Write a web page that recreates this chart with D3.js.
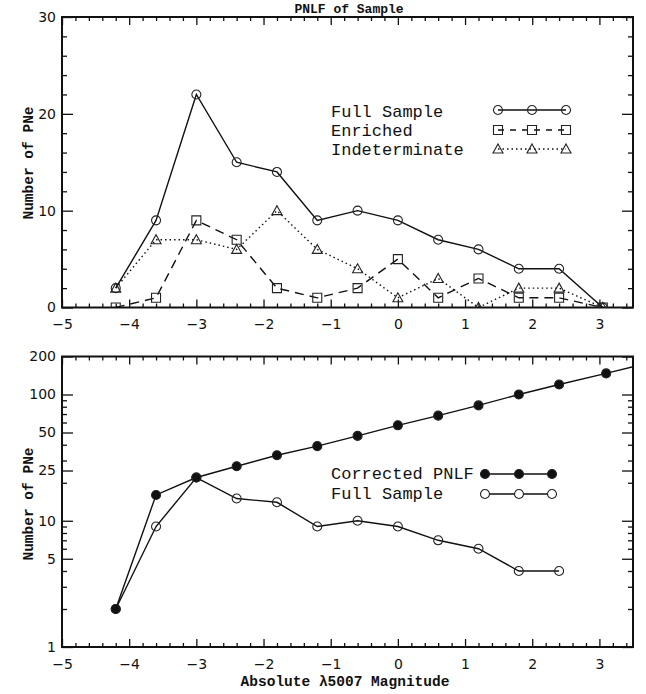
<!DOCTYPE html>
<html>
<head>
<meta charset="utf-8">
<script src="https://cdn.jsdelivr.net/npm/d3@7"></script>
<style>
body { margin: 0; background: #fff; }
.tick text { font-family: "DejaVu Sans", sans-serif; font-size: 14px; fill: #111; }
.tick line { stroke: #111; stroke-width: 1.3; }
.mono { font-family: "Liberation Mono", "DejaVu Sans Mono", monospace; fill: #111; }
</style>
</head>
<body>
<script>
// magnitudes of the bins (x) and counts
const magBins = [-4.2, -3.6, -3.0, -2.4, -1.8, -1.2, -0.6, 0, 0.6, 1.2, 1.8, 2.4, 3.05];
const fullSample = [2, 9, 22, 15, 14, 9, 10, 9, 7, 6, 4, 4, 0];
const enriched = [0, 1, 9, 7, 2, 1, 2, 5, 1, 3, 1, 1, 0];
const indeterminate = [2, 7, 7, 6, 10, 6, 4, 1, 3, 0, 2, 2, 0];

const corrMags = [-4.2, -3.6, -3.0, -2.4, -1.8, -1.2, -0.6, 0, 0.6, 1.2, 1.8, 2.4, 3.1, 3.7];
const corrected = [2, 16, 22, 27, 33, 39, 47, 57, 68, 82, 100, 120, 147, 176];
const fullMagsLog = [-4.2, -3.6, -3.0, -2.4, -1.8, -1.2, -0.6, 0, 0.6, 1.2, 1.8, 2.4];
const fullSampleLog = [2, 9, 22, 15, 14, 9, 10, 9, 7, 6, 4, 4];

const xTicks = [-5, -4, -3, -2, -1, 0, 1, 2, 3];
const yTicksTop = [0, 10, 20, 30];
const yTicksLog = [1, 5, 10, 25, 50, 100, 200];

const W = 646, H = 694;
const left = 62, right = 633;

const svg = d3.select("body").append("svg")
    .attr("width", W)
    .attr("height", H);

const xScale = d3.scaleLinear().domain([-5, 3.5]).range([left, right]);
const yTop = d3.scaleLinear().domain([0, 30]).range([307.5, 17]);
const yLog = d3.scaleLog().domain([1, 200]).range([647, 356.5]);

const xMinor = d3.range(-50, 36, 2).map(d => d / 10).filter(d => !xTicks.includes(d));
const yMinorTop = d3.range(0, 31, 2).filter(d => d % 10 != 0);
var yMinorLog = [];
[1, 10, 100].forEach(function(p) {
    for (var k = 2; k <= 9; k++) {
        var v = k * p;
        if (v <= 200 && !yTicksLog.includes(v)) yMinorLog.push(v);
    }
});

function tidy(g) {
    g.select(".domain").remove();
}

function drawFrame(y, yMajor, yMinor, fmt, clipId) {
    var y0 = y.range()[0], y1 = y.range()[1];
    var plotH = y0 - y1, plotW = right - left;

    svg.append("clipPath").attr("id", clipId)
        .append("rect")
        .attr("x", left).attr("y", y1)
        .attr("width", plotW).attr("height", plotH);

    // bottom axis (ticks inward)
    svg.append("g").attr("transform", "translate(0," + y0 + ")")
        .call(d3.axisBottom(xScale).tickValues(xTicks).tickSize(-8).tickPadding(12)
            .tickFormat(d => d < 0 ? "\u2212" + Math.abs(d) : d))
        .call(tidy);
    svg.append("g").attr("transform", "translate(0," + y0 + ")")
        .call(d3.axisBottom(xScale).tickValues(xMinor).tickSize(-4).tickFormat(""))
        .call(tidy);
    // top axis
    svg.append("g").attr("transform", "translate(0," + y1 + ")")
        .call(d3.axisTop(xScale).tickValues(xTicks).tickSize(-8).tickFormat(""))
        .call(tidy);
    svg.append("g").attr("transform", "translate(0," + y1 + ")")
        .call(d3.axisTop(xScale).tickValues(xMinor).tickSize(-4).tickFormat(""))
        .call(tidy);
    // left axis
    svg.append("g").attr("transform", "translate(" + left + ",0)")
        .call(d3.axisLeft(y).tickValues(yMajor).tickSize(-11).tickPadding(6).tickFormat(fmt))
        .call(tidy);
    svg.append("g").attr("transform", "translate(" + left + ",0)")
        .call(d3.axisLeft(y).tickValues(yMinor).tickSize(-5).tickFormat(""))
        .call(tidy);
    // right axis
    svg.append("g").attr("transform", "translate(" + right + ",0)")
        .call(d3.axisRight(y).tickValues(yMajor).tickSize(-11).tickFormat(""))
        .call(tidy);
    svg.append("g").attr("transform", "translate(" + right + ",0)")
        .call(d3.axisRight(y).tickValues(yMinor).tickSize(-5).tickFormat(""))
        .call(tidy);

    svg.append("rect")
        .attr("x", left).attr("y", y1)
        .attr("width", plotW).attr("height", plotH)
        .attr("fill", "none")
        .attr("stroke", "#111")
        .attr("stroke-width", 2);
}

// marker paths
const circlePath = d3.symbol(d3.symbolCircle, Math.PI * 4.5 * 4.5)();
const squarePath = "M-4.5,-4.5H4.5V4.5H-4.5Z";
const trianglePath = "M0,-5L5,4H-5Z";

function drawSeries(xs, ys, y, opts, clipId) {
    var pts = xs.map((d, i) => [d, ys[i]]);
    var line = d3.line().x(d => xScale(d[0])).y(d => y(d[1]));
    var g = svg.append("g").attr("clip-path", "url(#" + clipId + ")");
    g.append("path")
        .attr("d", line(pts))
        .attr("fill", "none")
        .attr("stroke", "#111")
        .attr("stroke-width", 1.4)
        .attr("stroke-dasharray", opts.dash || null);
    g.selectAll(null).data(pts).enter().append("path")
        .attr("transform", d => "translate(" + xScale(d[0]) + "," + y(d[1]) + ")")
        .attr("d", opts.marker)
        .attr("fill", opts.filled ? "#111" : "none")
        .attr("stroke", "#222")
        .attr("stroke-width", 1.1);
}

function legendRow(x0, xs, yMark, yText, label, opts) {
    svg.append("text").attr("class", "mono")
        .attr("x", x0).attr("y", yText)
        .style("font-size", "17px")
        .text(label);
    svg.append("line")
        .attr("x1", xs[0]).attr("x2", xs[xs.length - 1])
        .attr("y1", yMark).attr("y2", yMark)
        .attr("stroke", "#111").attr("stroke-width", 1.4)
        .attr("stroke-dasharray", opts.dash || null);
    xs.forEach(function(xx) {
        svg.append("path")
            .attr("transform", "translate(" + xx + "," + yMark + ")")
            .attr("d", opts.marker)
            .attr("fill", opts.filled ? "#111" : (opts.white ? "#fff" : "none"))
            .attr("stroke", "#222").attr("stroke-width", 1.1);
    });
}

// ---- top panel ----
drawFrame(yTop, yTicksTop, yMinorTop, d3.format("d"), "clipTop");
drawSeries(magBins, fullSample, yTop, {marker: circlePath}, "clipTop");
drawSeries(magBins, enriched, yTop, {marker: squarePath, dash: "9,6"}, "clipTop");
drawSeries(magBins, indeterminate, yTop, {marker: trianglePath, dash: "1.5,3"}, "clipTop");

legendRow(331, [498, 532, 566], 110, 117, "Full Sample", {marker: circlePath});
legendRow(331, [498, 532, 566], 130, 136, "Enriched", {marker: squarePath, dash: "6,6"});
legendRow(331, [498, 532, 566], 149, 155, "Indeterminate", {marker: trianglePath, dash: "1.5,3"});

svg.append("text").attr("class", "mono")
    .attr("x", 349).attr("y", 13)
    .attr("text-anchor", "middle")
    .style("font-size", "13px").style("font-weight", "bold")
    .text("PNLF of Sample");

svg.append("text").attr("class", "mono")
    .attr("transform", "translate(33,163) rotate(-90)")
    .attr("text-anchor", "middle")
    .style("font-size", "14.5px").style("font-weight", "bold")
    .text("Number of PNe");

// ---- bottom panel ----
drawFrame(yLog, yTicksLog, yMinorLog, d3.format("d"), "clipBot");
drawSeries(fullMagsLog, fullSampleLog, yLog, {marker: circlePath}, "clipBot");
drawSeries(corrMags, corrected, yLog, {marker: circlePath, filled: true}, "clipBot");

legendRow(331, [485, 519, 552], 474, 479, "Corrected PNLF", {marker: circlePath, filled: true});
legendRow(331, [485, 519, 552], 494, 499, "Full Sample", {marker: circlePath, white: true});

svg.append("text").attr("class", "mono")
    .attr("transform", "translate(33,504) rotate(-90)")
    .attr("text-anchor", "middle")
    .style("font-size", "14.5px").style("font-weight", "bold")
    .text("Number of PNe");

svg.append("text").attr("class", "mono")
    .attr("x", 345).attr("y", 686)
    .attr("text-anchor", "middle")
    .style("font-size", "14.5px").style("font-weight", "bold")
    .text("Absolute \u03bb5007 Magnitude");
</script>
</body>
</html>
